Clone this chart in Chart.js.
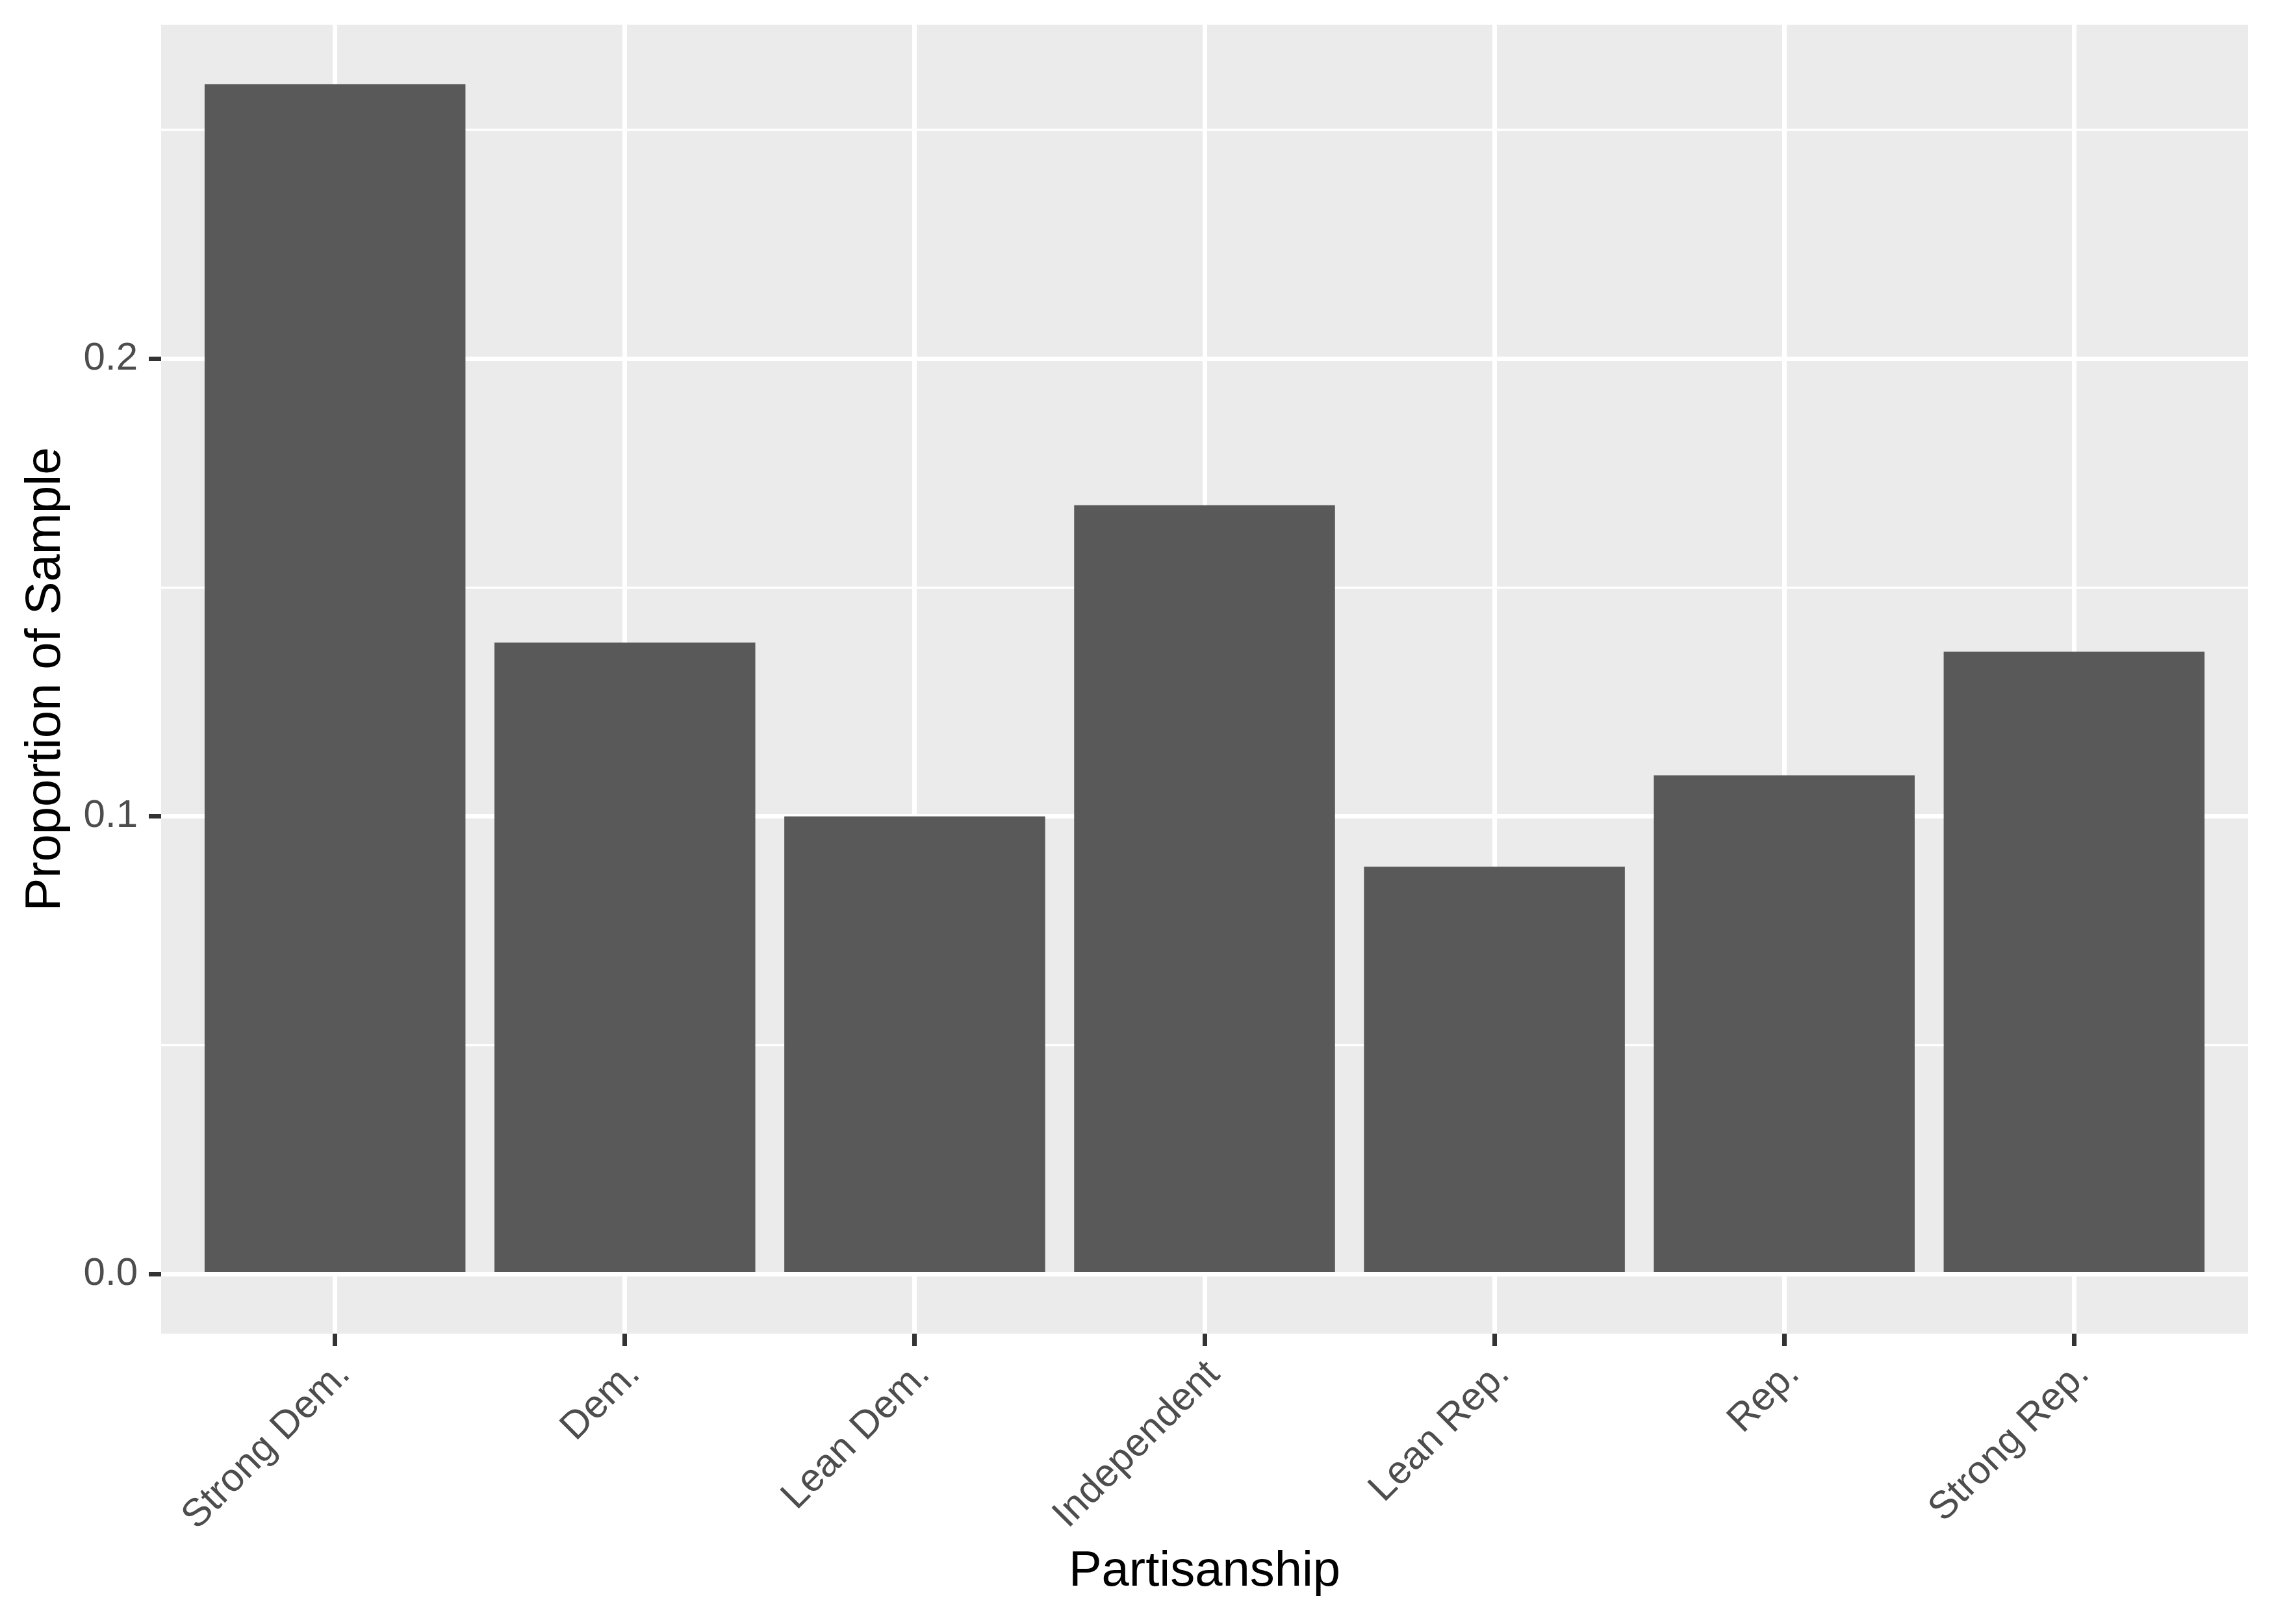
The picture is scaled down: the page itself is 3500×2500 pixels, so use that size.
<!DOCTYPE html>
<html>
<head>
<meta charset="utf-8">
<title>Partisanship</title>
<script src="https://cdn.jsdelivr.net/npm/chart.js@4.4.1/dist/chart.umd.min.js"></script>
<style>
  html, body { margin: 0; padding: 0; background: #fff; }
  #chart { display: block; }
</style>
</head>
<body>
<canvas id="chart" width="3500" height="2500" style="width:3500px;height:2500px"></canvas>
<script>
// data
const categories = ['Strong Dem.', 'Dem.', 'Lean Dem.', 'Independent', 'Lean Rep.', 'Rep.', 'Strong Rep.'];
const shares = [0.260, 0.138, 0.100, 0.168, 0.089, 0.109, 0.136];
const yMajorTicks = [0, 0.1, 0.2];
const yMinorTicks = [0.05, 0.15, 0.25];

const FONT = '"Liberation Sans", Arial, sans-serif';
const positions = categories.map((c, i) => i);
const yMax = Math.max(...shares);

// grey ggplot panel behind the grid
const panelBg = {
  id: 'panelBg',
  beforeDraw(chart) {
    const { ctx, chartArea: a } = chart;
    ctx.save();
    ctx.fillStyle = '#EBEBEB';
    ctx.fillRect(a.left, a.top, a.right - a.left, a.bottom - a.top);
    ctx.restore();
  }
};

const isMajor = v => yMajorTicks.includes(v);

new Chart(document.getElementById('chart'), {
  type: 'bar',
  data: {
    datasets: [{
      data: positions.map(i => ({ x: i, y: shares[i] })),
      backgroundColor: '#595959',
      borderWidth: 0,
      barPercentage: 0.9,
      categoryPercentage: 1.0
    }]
  },
  plugins: [panelBg],
  options: {
    responsive: false,
    devicePixelRatio: 1,
    animation: false,
    layout: { padding: { left: 0, top: 38, right: 40, bottom: 0 } },
    plugins: { legend: { display: false }, tooltip: { enabled: false } },
    scales: {
      x: {
        type: 'linear',
        offset: false,
        min: -0.6,
        max: categories.length - 0.4,
        afterBuildTicks: s => { s.ticks = positions.map(v => ({ value: v })); },
        afterFit: s => { s.height = 447; s.paddingLeft = 0; s.paddingRight = 0; },
        border: { display: false },
        grid: { offset: false, color: '#FFFFFF', lineWidth: 7, tickColor: '#333333', tickWidth: 7, tickLength: 19 },
        ticks: {
          autoSkip: false,
          minRotation: 45,
          maxRotation: 45,
          padding: 9,
          labelOffset: 14,
          color: '#4D4D4D',
          font: { family: FONT, size: 60 },
          callback: v => categories[v]
        },
        title: {
          display: true,
          text: 'Partisanship',
          color: '#000000',
          font: { family: FONT, size: 76 },
          padding: { top: 0, bottom: 34 }
        }
      },
      y: {
        min: -0.05 * yMax,
        max: 1.05 * yMax,
        afterBuildTicks: s => { s.ticks = [...yMajorTicks, ...yMinorTicks].sort((a, b) => a - b).map(v => ({ value: v })); },
        afterFit: s => { s.width = 248; s.paddingTop = 0; s.paddingBottom = 0; },
        border: { display: false },
        grid: {
          color: '#FFFFFF',
          lineWidth: c => (c.tick && !isMajor(c.tick.value)) ? 3.5 : 7,
          tickColor: c => (c.tick && !isMajor(c.tick.value)) ? 'rgba(0,0,0,0)' : '#333333',
          tickWidth: 7,
          tickLength: 19
        },
        ticks: {
          padding: 17,
          color: '#4D4D4D',
          font: { family: FONT, size: 60 },
          callback: v => isMajor(v) ? v.toFixed(1) : ''
        },
        title: {
          display: true,
          text: 'Proportion of Sample',
          color: '#000000',
          font: { family: FONT, size: 76 },
          padding: { top: 25, bottom: 0 }
        }
      }
    }
  }
});
</script>
</body>
</html>
